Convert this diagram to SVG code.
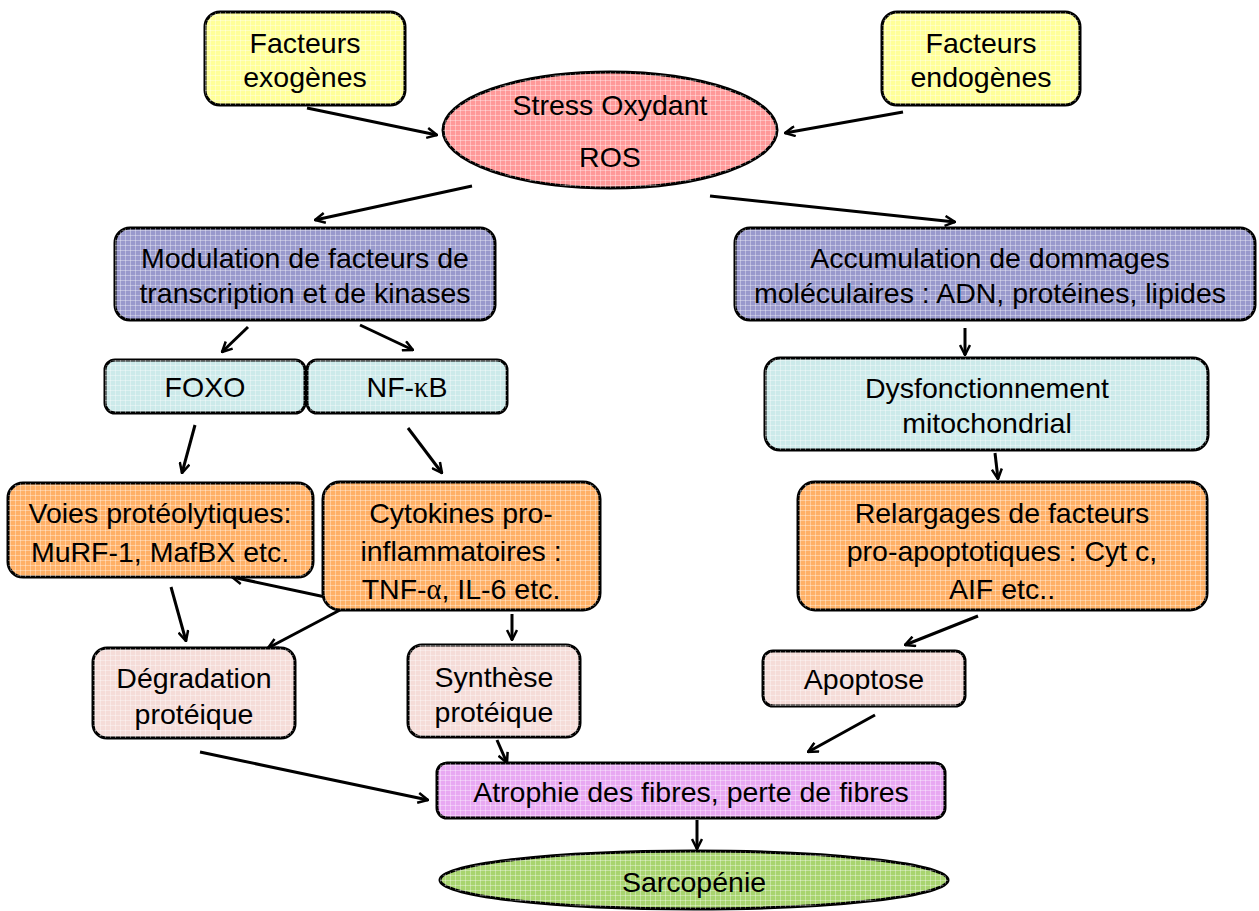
<svg xmlns="http://www.w3.org/2000/svg" width="1259" height="911" viewBox="0 0 1259 911">
<defs>
<style>
.n{stroke:#000;stroke-width:3}
.t{font-family:"Liberation Sans",Arial,sans-serif;font-size:28.5px;text-anchor:middle;fill:#000}
.g{font-family:"Liberation Serif","Times New Roman",serif}
.c line{stroke:#000;stroke-width:3;marker-end:url(#a)}
</style>
<marker id="a" viewBox="0 0 12 12" refX="11" refY="6" markerWidth="12" markerHeight="12" markerUnits="userSpaceOnUse" orient="auto">
<polyline points="1,1 11,6 1,11" fill="none" stroke="#000" stroke-width="2.5"/>
</marker>
<pattern id="grid" width="5" height="5" patternUnits="userSpaceOnUse">
<path d="M0 0.5H5M0.5 0V5" stroke="#fff" stroke-opacity="0.35" stroke-width="1"/>
</pattern>
</defs>
<rect width="1259" height="911" fill="#fff"/>

<g class="c">
<line x1="307" y1="108" x2="437" y2="135"/>
<line x1="903" y1="112" x2="785" y2="133"/>
<line x1="472" y1="186" x2="315" y2="220"/>
<line x1="710" y1="196" x2="955" y2="222"/>
<line x1="248" y1="327" x2="222" y2="352"/>
<line x1="360" y1="325" x2="413" y2="350"/>
<line x1="195" y1="425" x2="182" y2="473"/>
<line x1="408" y1="428" x2="442" y2="473"/>
<line x1="171" y1="587" x2="186" y2="641"/>
<line x1="330" y1="598" x2="232" y2="577"/>
<line x1="340" y1="610" x2="268" y2="648"/>
<line x1="512" y1="614" x2="512" y2="640"/>
<line x1="200" y1="752" x2="428" y2="800"/>
<line x1="497" y1="740" x2="507" y2="763"/>
<line x1="965" y1="328" x2="965" y2="355"/>
<line x1="995" y1="453" x2="998" y2="479"/>
<line x1="978" y1="616" x2="905" y2="645"/>
<line x1="875" y1="715" x2="808" y2="752"/>
<line x1="697" y1="820" x2="697" y2="849"/>
</g>

<g id="exogenes"><rect class="n" x="205" y="12" width="200" height="93" rx="15" fill="#ffff99"/><rect x="205" y="12" width="200" height="93" rx="15" fill="url(#grid)"/><text class="t" x="305" y="53">Facteurs</text><text class="t" x="305" y="87">exogènes</text></g>
<g id="endogenes"><rect class="n" x="882" y="12" width="198" height="93" rx="15" fill="#ffff99"/><rect x="882" y="12" width="198" height="93" rx="15" fill="url(#grid)"/><text class="t" x="981" y="53">Facteurs</text><text class="t" x="981" y="87">endogènes</text></g>
<g id="stress"><ellipse class="n" cx="610" cy="130" rx="167" ry="58" fill="#ff9999"/><ellipse cx="610" cy="130" rx="167" ry="58" fill="url(#grid)"/><text class="t" x="610" y="115">Stress Oxydant</text><text class="t" x="610" y="167">ROS</text></g>
<g id="modulation"><rect class="n" x="115" y="228" width="380" height="92" rx="15" fill="#9999cc"/><rect x="115" y="228" width="380" height="92" rx="15" fill="url(#grid)"/><text class="t" x="305" y="268">Modulation de facteurs de</text><text class="t" x="305" y="303">transcription et de kinases</text></g>
<g id="accumulation"><rect class="n" x="735" y="228" width="520" height="92" rx="15" fill="#9999cc"/><rect x="735" y="228" width="520" height="92" rx="15" fill="url(#grid)"/><text class="t" x="990" y="268">Accumulation de dommages</text><text class="t" x="990" y="303">moléculaires : ADN, protéines, lipides</text></g>
<g id="foxo"><rect class="n" x="105" y="360" width="200" height="53" rx="10" fill="#cceaea"/><rect x="105" y="360" width="200" height="53" rx="10" fill="url(#grid)"/><text class="t" x="205" y="397">FOXO</text></g>
<g id="nfkb"><rect class="n" x="307" y="360" width="200" height="53" rx="10" fill="#cceaea"/><rect x="307" y="360" width="200" height="53" rx="10" fill="url(#grid)"/><text class="t" x="407" y="397">NF-<tspan class="g">κ</tspan>B</text></g>
<g id="dysfonction"><rect class="n" x="765" y="358" width="443" height="92" rx="15" fill="#cceaea"/><rect x="765" y="358" width="443" height="92" rx="15" fill="url(#grid)"/><text class="t" x="987" y="398">Dysfonctionnement</text><text class="t" x="987" y="433">mitochondrial</text></g>
<g id="voies"><rect class="n" x="8" y="483" width="305" height="94" rx="15" fill="#ffb066"/><rect x="8" y="483" width="305" height="94" rx="15" fill="url(#grid)"/><text class="t" x="160" y="523">Voies protéolytiques:</text><text class="t" x="160" y="562">MuRF-1, MafBX etc.</text></g>
<g id="cytokines"><rect class="n" x="323" y="482" width="277" height="128" rx="17" fill="#ffb066"/><rect x="323" y="482" width="277" height="128" rx="17" fill="url(#grid)"/><text class="t" x="461" y="523">Cytokines pro-</text><text class="t" x="461" y="561">inflammatoires :</text><text class="t" x="461" y="599">TNF-<tspan class="g">α</tspan>, IL-6 etc.</text></g>
<g id="relargages"><rect class="n" x="798" y="482" width="409" height="128" rx="17" fill="#ffb066"/><rect x="798" y="482" width="409" height="128" rx="17" fill="url(#grid)"/><text class="t" x="1002" y="523">Relargages de facteurs</text><text class="t" x="1002" y="561">pro-apoptotiques : Cyt c,</text><text class="t" x="1002" y="599">AIF etc..</text></g>
<g id="degradation"><rect class="n" x="93" y="648" width="202" height="90" rx="14" fill="#f5dcd8"/><rect x="93" y="648" width="202" height="90" rx="14" fill="url(#grid)"/><text class="t" x="194" y="688">Dégradation</text><text class="t" x="194" y="724">protéique</text></g>
<g id="synthese"><rect class="n" x="408" y="645" width="172" height="92" rx="14" fill="#f5dcd8"/><rect x="408" y="645" width="172" height="92" rx="14" fill="url(#grid)"/><text class="t" x="494" y="687">Synthèse</text><text class="t" x="494" y="722">protéique</text></g>
<g id="apoptose"><rect class="n" x="763" y="651" width="202" height="55" rx="10" fill="#f5dcd8"/><rect x="763" y="651" width="202" height="55" rx="10" fill="url(#grid)"/><text class="t" x="864" y="689">Apoptose</text></g>
<g id="atrophie"><rect class="n" x="437" y="763" width="508" height="55" rx="10" fill="#e8a8f2"/><rect x="437" y="763" width="508" height="55" rx="10" fill="url(#grid)"/><text class="t" x="691" y="802">Atrophie des fibres, perte de fibres</text></g>
<g id="sarcopenie"><ellipse class="n" cx="694" cy="880" rx="254" ry="29" fill="#a8d46f"/><ellipse cx="694" cy="880" rx="254" ry="29" fill="url(#grid)"/><text class="t" x="694" y="892">Sarcopénie</text></g>
</svg>
